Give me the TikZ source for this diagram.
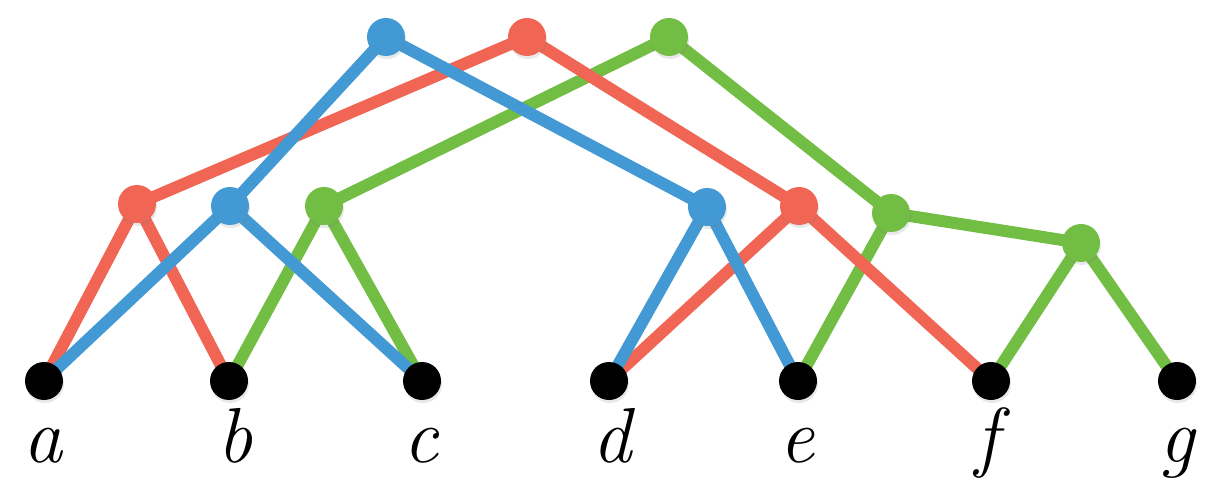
\documentclass[tikz,border=0pt]{standalone}
\usepackage{fontspec}
\usetikzlibrary{shadows}
\definecolor{cred}{HTML}{F06553}
\definecolor{cblue}{HTML}{4299D3}
\definecolor{cgreen}{HTML}{72BD43}
\begin{document}
\begin{tikzpicture}[x=1pt,y=-1pt,
  dot/.style={circle,inner sep=0pt,minimum size=38pt,
    drop shadow={shadow xshift=1pt,shadow yshift=-3pt,opacity=0.18}},
  leaf/.style={dot,fill=black},
  rn/.style={dot,fill=cred},
  bn/.style={dot,fill=cblue},
  gn/.style={dot,fill=cgreen},
  re/.style={draw=cred,line width=12pt},
  be/.style={draw=cblue,line width=12pt},
  ge/.style={draw=cgreen,line width=12pt},
  lab/.style={anchor=base,font=\fontsize{78}{78}\selectfont\itshape,inner sep=0pt}]
\useasboundingbox (0,0) rectangle (1215,494);
% leaf coordinates
\coordinate (A) at (44,381);
\coordinate (B) at (229,381);
\coordinate (C) at (422,381);
\coordinate (D) at (609,381);
\coordinate (E) at (798,381);
\coordinate (F) at (991,381);
\coordinate (G) at (1177,381);
% internal coordinates
\coordinate (BT) at (386,37);
\coordinate (RT) at (527,37);
\coordinate (GT) at (669,37);
\coordinate (RL) at (137,204);
\coordinate (BL) at (230,206);
\coordinate (GL) at (324,206);
\coordinate (BR) at (707,207);
\coordinate (RR) at (799,206);
\coordinate (GR) at (891,213);
\coordinate (GS) at (1081,243);
% edges
\draw[ge] (GT) -- (GL) (GT) -- (GR) (GL) -- (B) (GL) -- (C) (GR) -- (E) (GR) -- (GS) (GS) -- (F) (GS) -- (G);
\draw[re] (RT) -- (RL) (RT) -- (RR) (RL) -- (A) (RL) -- (B) (RR) -- (D) (RR) -- (F);
\draw[be] (BT) -- (BL) (BT) -- (BR) (BL) -- (A) (BL) -- (C) (BR) -- (D) (BR) -- (E);
% internal nodes
\node[bn] (bt) at (BT) {};
\node[rn] (rt) at (RT) {};
\node[gn] (gt) at (GT) {};
\node[rn] (rl) at (RL) {};
\node[bn] (bl) at (BL) {};
\node[gn] (gl) at (GL) {};
\node[bn] (br) at (BR) {};
\node[rn] (rr) at (RR) {};
\node[gn] (gr) at (GR) {};
\node[gn] (gs) at (GS) {};
% leaves
\node[leaf] (a) at (A) {};
\node[leaf] (b) at (B) {};
\node[leaf] (c) at (C) {};
\node[leaf] (d) at (D) {};
\node[leaf] (e) at (E) {};
\node[leaf] (f) at (F) {};
\node[leaf] (g) at (G) {};
% labels
\node[lab] (la) at (43,462) {a};
\node[lab] (lb) at (235,462) {b};
\node[lab] (lc) at (421,462) {c};
\node[lab] (ld) at (612,462) {d};
\node[lab] (le) at (797,462) {e};
\node[lab] (lf) at (987,462) {f};
\node[lab] (lg) at (1177,462) {g};
\end{tikzpicture}
\end{document}
